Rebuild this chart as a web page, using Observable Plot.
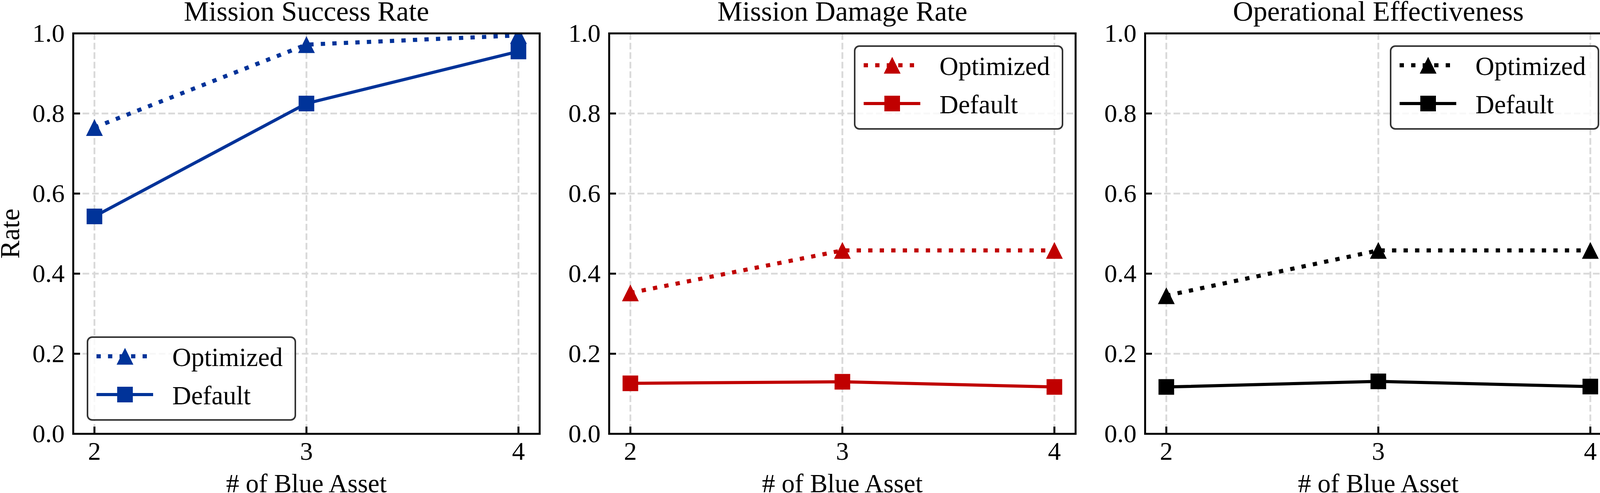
<!DOCTYPE html>
<html>
<head>
<meta charset="utf-8">
<script src="https://cdn.jsdelivr.net/npm/d3@7"></script>
<script src="https://cdn.jsdelivr.net/npm/@observablehq/plot@0.6"></script>
<style>
  html, body { margin: 0; padding: 0; background: #fff; overflow: hidden; }
  #chart { position: relative; width: 4128px; height: 1262px; background: #fff; }
  #chart svg { position: absolute; top: 0; max-width: none !important; }
  #chart svg text { font-family: "Liberation Serif", "Times New Roman", serif !important; }
</style>
</head>
<body>
<div id="chart"></div>
<script>
// ---- data ----
const assets = [2, 3, 4];
const titles = ["Mission Success Rate", "Mission Damage Rate", "Operational Effectiveness"];
const seriesNames = ["Optimized", "Default"];
const successOpt = [0.765, 0.972, 0.995];
const successDef = [0.543, 0.825, 0.955];
const damageOpt = [0.352, 0.458, 0.458];
const damageDef = [0.126, 0.130, 0.117];
const effectOpt = [0.345, 0.458, 0.458];
const effectDef = [0.117, 0.131, 0.118];
const yTicks = [0, 0.2, 0.4, 0.6, 0.8, 1.0];
const xTicks = [2, 3, 4];
const xLabel = "# of Blue Asset";
const yLabel = "Rate";

// ---- styles ----
const colors = ["#003399", "#c00000", "#000000"];
const legendLoc = ["lower left", "upper right", "upper right"];
const optSeries = [successOpt, damageOpt, effectOpt];
const defSeries = [successDef, damageDef, effectDef];

const W = 1384, H = 1262, ML = 187, MR = 3, MT = 85, MB = 152;
const FW = W - ML - MR, FH = H - MT - MB;
const FONT = "'Liberation Serif', 'Times New Roman', serif";
const gridStyle = {stroke: "#d9d9d9", strokeOpacity: 1, strokeWidth: 4.6, strokeDasharray: "17,7.4"};
const DOT_W = 10.5, DOT_DASH = "11,18.5", SOLID_W = 8;

const triangle = {
  draw(context, size) {
    const s = Math.sqrt(size);
    context.moveTo(0, -s / 2);
    context.lineTo(s / 2, s / 2);
    context.lineTo(-s / 2, s / 2);
    context.closePath();
  }
};
const square = {
  draw(context, size) {
    const s = Math.sqrt(size);
    context.rect(-s / 2, -s / 2, s, s);
  }
};
const R_TRI = 43 / Math.sqrt(Math.PI);
const R_SQ = 40 / Math.sqrt(Math.PI);

const chart = document.getElementById("chart");

for (let i = 0; i < 3; i++) {
  const color = colors[i];
  const opt = assets.map((a, j) => ({x: a, y: optSeries[i][j]}));
  const def = assets.map((a, j) => ({x: a, y: defSeries[i][j]}));
  const marks = [
    Plot.gridX(xTicks, gridStyle),
    Plot.gridY([0.2, 0.4, 0.6, 0.8], gridStyle),
    Plot.line(opt, {x: "x", y: "y", stroke: color, strokeWidth: DOT_W, strokeDasharray: DOT_DASH, strokeLinecap: "butt", clip: true}),
    Plot.line(def, {x: "x", y: "y", stroke: color, strokeWidth: SOLID_W, strokeLinecap: "butt", clip: true}),
    Plot.dot(opt, {x: "x", y: "y", symbol: triangle, r: R_TRI, fill: color, stroke: "none", clip: true}),
    Plot.dot(def, {x: "x", y: "y", symbol: square, r: R_SQ, fill: color, stroke: "none", clip: true}),
    Plot.tickY(yTicks, {y: d => d, stroke: "black", strokeWidth: 5, insetRight: FW - 18}),
    Plot.tickX(xTicks, {x: d => d, stroke: "black", strokeWidth: 5, insetTop: FH - 18}),
    Plot.axisX(xTicks, {anchor: "bottom", tickSize: 0, tickPadding: 20, fontSize: 66, fontFamily: FONT, label: null, tickFormat: d => String(d)}),
    Plot.axisY(yTicks, {anchor: "left", tickSize: 0, tickPadding: 22, fontSize: 66, fontFamily: FONT, label: null, tickFormat: d3.format(".1f")}),
    Plot.frame({stroke: "black", strokeWidth: 5}),
    Plot.text([titles[i]], {frameAnchor: "top", dy: -33, lineAnchor: "bottom", fontSize: 72, fontFamily: FONT, fill: "black"}),
    Plot.text([xLabel], {frameAnchor: "bottom", dy: 149, lineAnchor: "bottom", fontSize: 67, fontFamily: FONT, fill: "black"})
  ];
  if (i === 0) {
    marks.push(Plot.text([yLabel], {frameAnchor: "left", dx: -139, rotate: -90, lineAnchor: "bottom", textAnchor: "middle", fontSize: 70, fontFamily: FONT, fill: "black"}));
  }
  const svg = Plot.plot({
    width: W, height: H,
    marginLeft: ML, marginRight: MR, marginTop: MT, marginBottom: MB,
    x: {domain: [1.9, 4.1]},
    y: {domain: [0, 1]},
    style: {fontFamily: FONT, background: "transparent", color: "black", overflow: "visible"},
    marks
  });
  svg.style.left = (1372 * i) + "px";

  // legend
  const bx = legendLoc[i] === "upper right" ? ML + 629 : ML + 37;
  const by = legendLoc[i] === "upper right" ? MT + 33 : MT + 778;
  const g = d3.select(svg).append("g").attr("font-family", FONT).attr("text-anchor", "start");
  g.append("rect").attr("x", bx).attr("y", by).attr("width", 532).attr("height", 212)
    .attr("rx", 12).attr("ry", 12)
    .attr("fill", "white").attr("fill-opacity", 0.8)
    .attr("stroke", "#333").attr("stroke-width", 4);
  const rows = [by + 49, by + 147];
  // optimized (dotted + triangle)
  g.append("line").attr("x1", bx + 23).attr("x2", bx + 168).attr("y1", rows[0]).attr("y2", rows[0])
    .attr("stroke", color).attr("stroke-width", DOT_W).attr("stroke-dasharray", DOT_DASH);
  g.append("path").attr("transform", `translate(${bx + 96},${rows[0]})`)
    .attr("d", d3.symbol(triangle, 43 * 43)()).attr("fill", color);
  // default (solid + square)
  g.append("line").attr("x1", bx + 23).attr("x2", bx + 168).attr("y1", rows[1]).attr("y2", rows[1])
    .attr("stroke", color).attr("stroke-width", SOLID_W);
  g.append("path").attr("transform", `translate(${bx + 96},${rows[1]})`)
    .attr("d", d3.symbol(square, 40 * 40)()).attr("fill", color);
  seriesNames.forEach((name, k) => {
    g.append("text").attr("x", bx + 217).attr("y", rows[k] + 25)
      .attr("text-anchor", "start")
      .attr("font-size", 67).attr("fill", "black").text(name);
  });

  chart.appendChild(svg);
}
</script>
</body>
</html>
